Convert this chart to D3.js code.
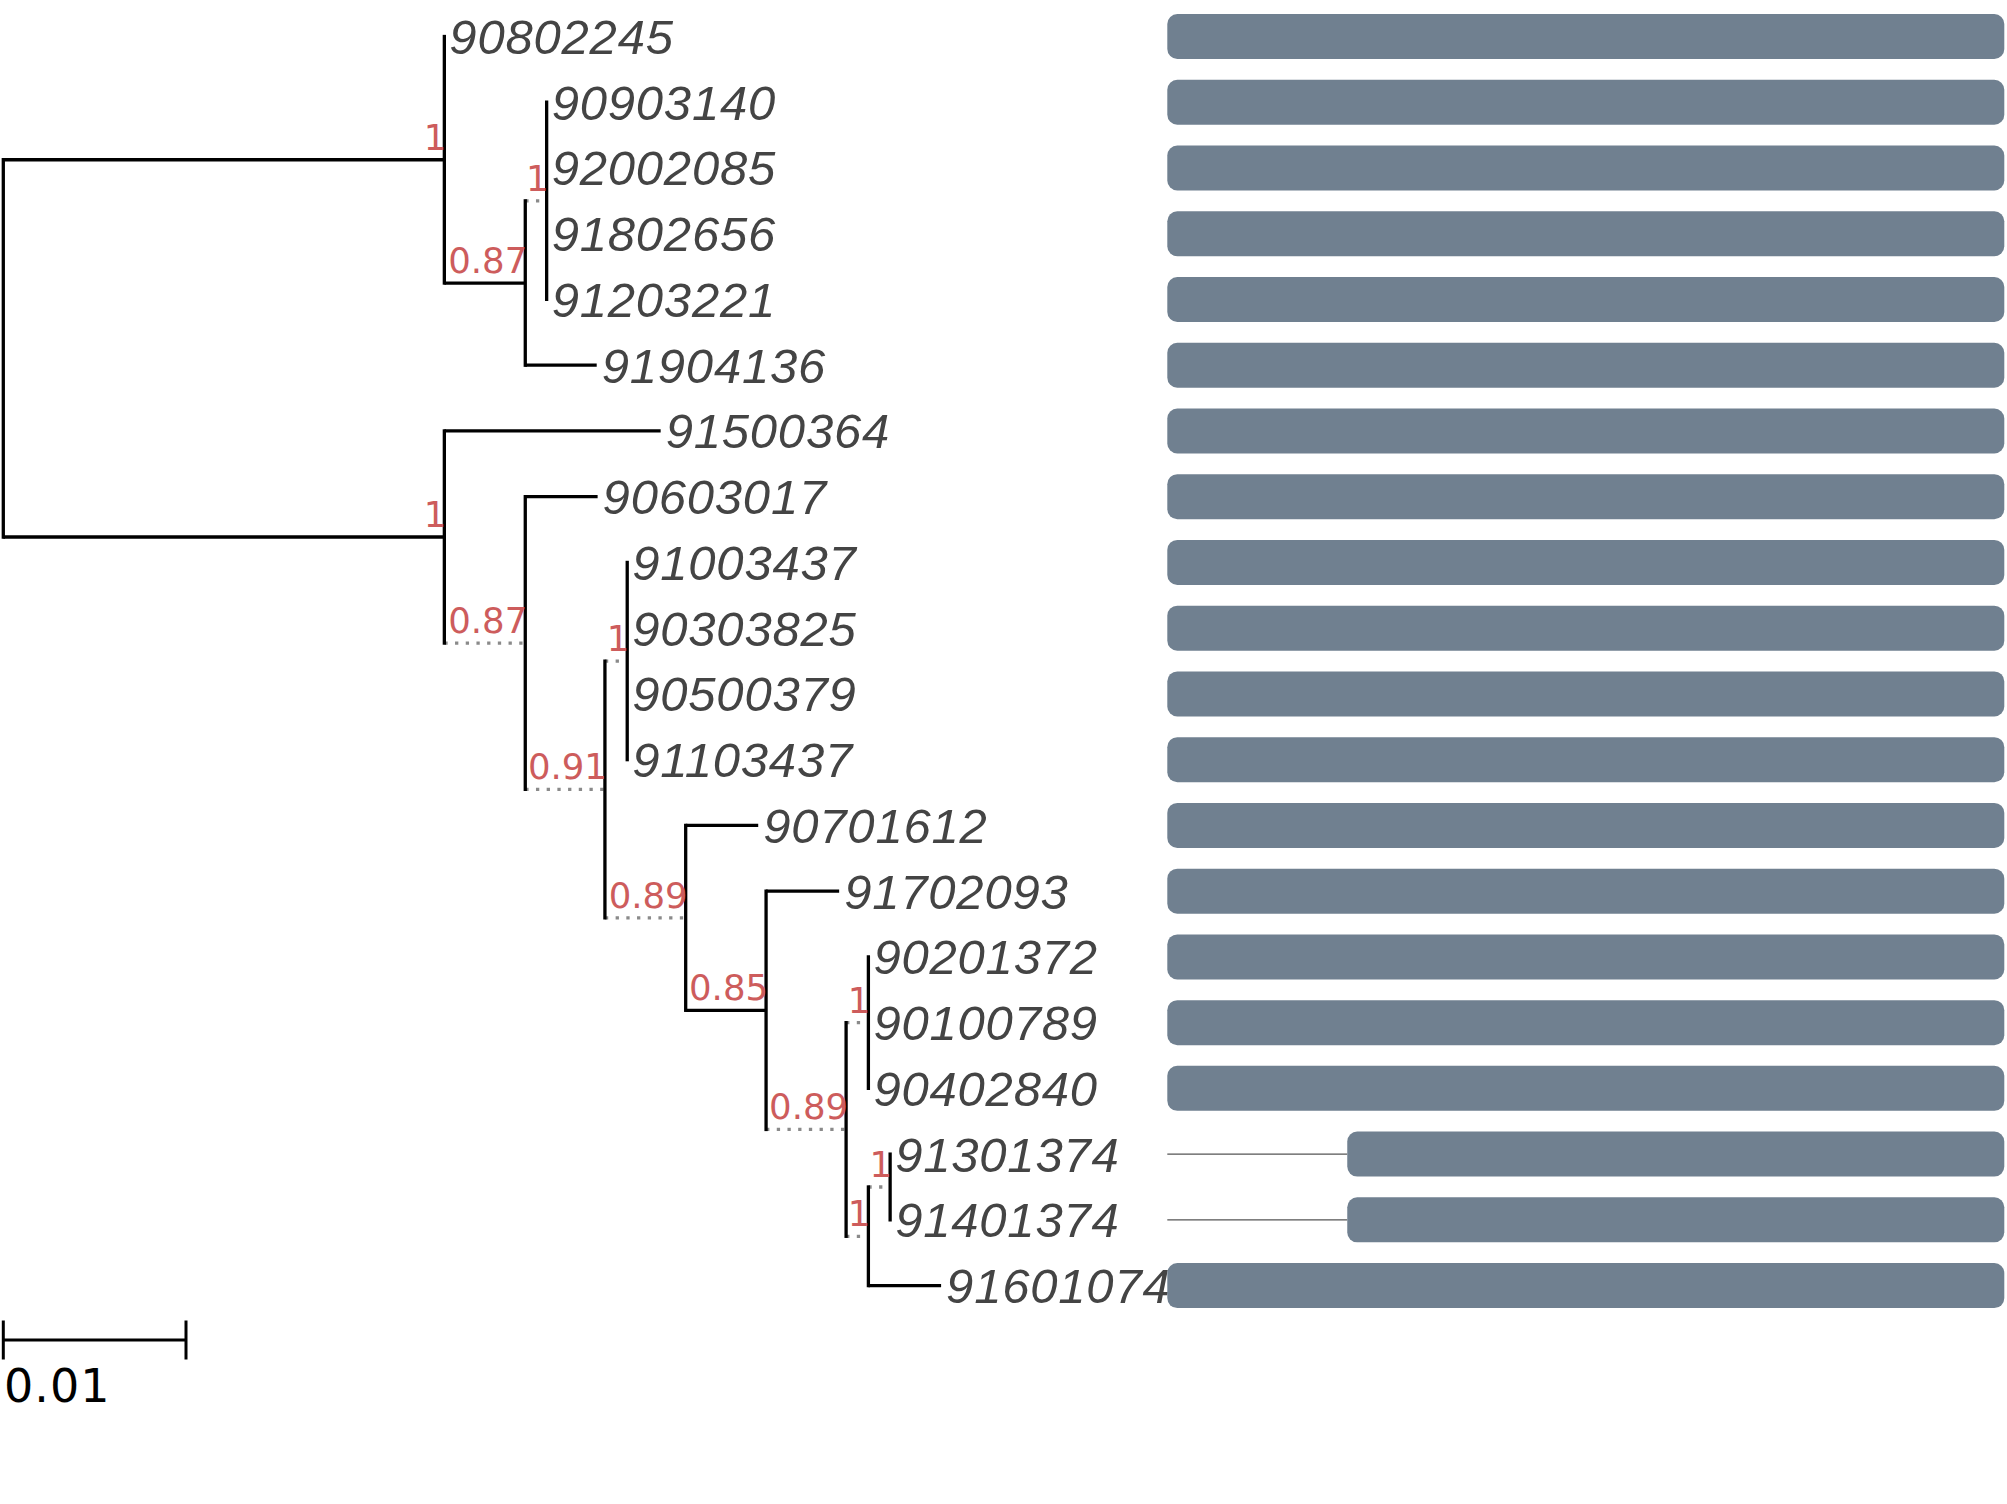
<!DOCTYPE html>
<html>
<head>
<meta charset="utf-8">
<script src="https://cdn.jsdelivr.net/npm/d3@7"></script>
<style>
  body { margin: 0; background: #fff; }
</style>
</head>
<body>
<svg id="tree" width="2007" height="1504"></svg>
<script>
// tree in newick form: support values on internal nodes, branch lengths in substitutions/site
const newick =
  "((90802245:0,((90903140:0,92002085:0,91802656:0,91203221:0)1:0.00117,91904136:0.00391)0.87:0.00443)1:0.02414," +
  "(91500364:0.01184,(90603017:0.00396,((91003437:0,90303825:0,90500379:0,91103437:0)1:0.00122," +
  "(90701612:0.00397,(91702093:0.00400,((90201372:0,90100789:0,90402840:0)1:0.00122," +
  "((91301374:0,91401374:0)1:0.00119,91601074:0.00398)1:0.00122)0.89:0.00438)0.85:0.00440)0.89:0.00442)0.91:0.00436)0.87:0.00443)1:0.02414);";

// clades whose stem is drawn dotted (first leaf - last leaf)
const dottedClades = [
  "90903140-91203221",
  "90603017-91601074",
  "91003437-91601074",
  "91003437-91103437",
  "90701612-91601074",
  "90201372-91601074",
  "90201372-90402840",
  "91301374-91601074",
  "91301374-91401374",
];

// alignment coverage per tip (start, end) on a 0..1000 scale
const tipNames = [
  "90802245", "90903140", "92002085", "91802656", "91203221", "91904136",
  "91500364", "90603017", "91003437", "90303825", "90500379", "91103437",
  "90701612", "91702093", "90201372", "90100789", "90402840", "91301374",
  "91401374", "91601074",
];
const seqStart = [0, 0, 0, 0, 0, 0, 0, 0, 0, 0, 0, 0, 0, 0, 0, 0, 0, 215, 215, 0];
const seqEnd = [1000, 1000, 1000, 1000, 1000, 1000, 1000, 1000, 1000, 1000, 1000, 1000, 1000, 1000, 1000, 1000, 1000, 1000, 1000, 1000];
const seqLength = 1000;

const scaleBarValue = 0.01;

// minimal newick parser
function parseNewick(s) {
  let i = 0;
  function readName() {
    let start = i;
    while (i < s.length && !",():;".includes(s[i])) i++;
    return s.slice(start, i);
  }
  function node() {
    const n = { children: [] };
    if (s[i] === "(") {
      i++;
      n.children.push(node());
      while (s[i] === ",") { i++; n.children.push(node()); }
      i++; // ")"
      const lab = readName();
      if (lab) n.support = lab;
    } else {
      n.name = readName();
    }
    if (s[i] === ":") { i++; n.length = +readName(); }
    if (!n.children.length) delete n.children;
    return n;
  }
  return node();
}

const svg = d3.select("#tree");
const root = d3.hierarchy(parseNewick(newick));

// cumulative distance from root
root.eachBefore((d) => {
  d.dist = d.parent ? d.parent.dist + (d.data.length || 0) : 0;
});

const leaves = root.leaves();
const y = d3.scaleLinear().domain([0, tipNames.length - 1]).range([36.5, 1285.6]);
const xTree = d3.scaleLinear().domain([0, scaleBarValue]).range([3.3, 186]);
const xSeq = d3.scaleLinear().domain([0, seqLength]).range([1167.3, 2004.3]);

leaves.forEach((d) => (d.row = tipNames.indexOf(d.data.name)));
root.eachAfter((d) => {
  if (d.children) {
    d.y = (d.children[0].y + d.children[d.children.length - 1].y) / 2;
  } else {
    d.y = y(d.row);
  }
  d.x = xTree(d.dist);
});

const cladeKey = (d) => {
  const l = d.leaves();
  return l[0].data.name + "-" + l[l.length - 1].data.name;
};
const isDotted = (d) => d.children && dottedClades.includes(cladeKey(d));

const g = svg.append("g");

// horizontal stems
g.selectAll(".stem")
  .data(root.descendants().filter((d) => d.parent))
  .join("line")
  .attr("class", "stem")
  .attr("x1", (d) => d.parent.x)
  .attr("x2", (d) => d.x)
  .attr("y1", (d) => d.y)
  .attr("y2", (d) => d.y)
  .attr("stroke", (d) => (isDotted(d) ? "#8a8a8a" : "#000"))
  .attr("stroke-dasharray", (d) => (isDotted(d) ? "3.3,7.4" : null))
  .attr("stroke-width", 3.3);

// vertical connectors
g.selectAll(".vert")
  .data(root.descendants().filter((d) => d.children))
  .join("line")
  .attr("class", "vert")
  .attr("x1", (d) => d.x)
  .attr("x2", (d) => d.x)
  .attr("y1", (d) => d.children[0].y)
  .attr("y2", (d) => d.children[d.children.length - 1].y)
  .attr("stroke", "#000")
  .attr("stroke-width", 3.3)
  .attr("stroke-linecap", "square");

// support values
g.selectAll(".support")
  .data(root.descendants().filter((d) => d.parent && d.children))
  .join("text")
  .attr("class", "support")
  .attr("x", (d) => d.x + 2)
  .attr("y", (d) => d.y - 10)
  .attr("text-anchor", "end")
  .attr("font-family", "DejaVu Sans")
  .attr("font-size", 35.5)
  .attr("fill", "indianred")
  .text((d) => d.data.support);

// tip labels
g.selectAll(".tip")
  .data(leaves)
  .join("text")
  .attr("class", "tip")
  .attr("x", (d) => d.x + 5)
  .attr("y", (d) => d.y + 17.5)
  .attr("font-family", "Liberation Sans")
  .attr("font-style", "italic")
  .attr("font-size", 49)
  .attr("letter-spacing", 0.8)
  .attr("fill", "#444")
  .text((d) => d.data.name);

// alignment coverage bars
const bars = svg.append("g");
bars.selectAll(".gap")
  .data(tipNames.filter((n, i) => seqStart[i] > 0))
  .join("line")
  .attr("class", "gap")
  .attr("x1", xSeq(0))
  .attr("x2", (n) => xSeq(seqStart[tipNames.indexOf(n)]))
  .attr("y1", (n) => y(tipNames.indexOf(n)))
  .attr("y2", (n) => y(tipNames.indexOf(n)))
  .attr("stroke", "#555")
  .attr("stroke-width", 1.3);

bars.selectAll(".bar")
  .data(tipNames)
  .join("rect")
  .attr("class", "bar")
  .attr("x", (n, i) => xSeq(seqStart[i]))
  .attr("width", (n, i) => xSeq(seqEnd[i]) - xSeq(seqStart[i]))
  .attr("y", (n, i) => y(i) - 22.5)
  .attr("height", 45)
  .attr("rx", 10)
  .attr("fill", "#708090");

// scale bar
const sb = svg.append("g");
const sbY = 1340;
sb.append("line")
  .attr("x1", xTree(0)).attr("x2", xTree(scaleBarValue))
  .attr("y1", sbY).attr("y2", sbY)
  .attr("stroke", "#000").attr("stroke-width", 3);
[0, scaleBarValue].forEach((v) => {
  sb.append("line")
    .attr("x1", xTree(v)).attr("x2", xTree(v))
    .attr("y1", sbY - 19.5).attr("y2", sbY + 19.5)
    .attr("stroke", "#000").attr("stroke-width", 3);
});
sb.append("text")
  .attr("x", 4)
  .attr("y", 1401.7)
  .attr("font-family", "DejaVu Sans")
  .attr("font-size", 46)
  .attr("letter-spacing", 1)
  .attr("fill", "#000")
  .text(scaleBarValue);
</script>
</body>
</html>
